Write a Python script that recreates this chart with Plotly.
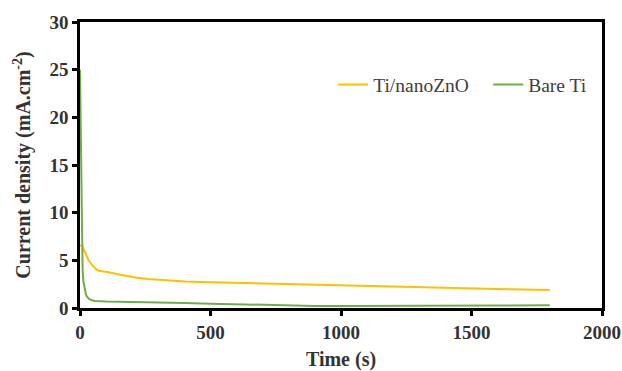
import plotly.graph_objects as go

# Ti/nanoZnO
t_zno = [0, 10, 20, 33, 45, 53, 63, 72, 91, 110, 136, 170, 213, 260, 302, 350, 404, 500,
         600, 700, 800, 900, 1000, 1100, 1200, 1300, 1400, 1500, 1600, 1700, 1800]
j_zno = [6.6, 6.4, 5.8, 5.0, 4.55, 4.3, 4.05, 3.9, 3.85, 3.75, 3.6, 3.4, 3.2, 3.05, 2.95, 2.85, 2.78, 2.7,
         2.63, 2.58, 2.52, 2.46, 2.38, 2.3, 2.22, 2.15, 2.08, 2.03, 1.98, 1.94, 1.9]

# Bare Ti
t_ti = [0, 2, 4, 6, 8, 10, 13, 17, 22, 26, 35, 45, 58, 100, 200, 300, 400, 500, 600, 700,
        800, 900, 1000, 1200, 1400, 1600, 1800]
j_ti = [25, 20, 14, 9, 6, 4, 2.8, 2.0, 1.5, 1.2, 0.95, 0.82, 0.73, 0.68, 0.65, 0.6, 0.52, 0.45,
        0.38, 0.3, 0.25, 0.22, 0.2, 0.2, 0.22, 0.25, 0.28]

x_ticks = [0, 500, 1000, 1500, 2000]
y_ticks = [0, 5, 10, 15, 20, 25, 30]

serif = "Liberation Serif, Times New Roman, serif"

fig = go.Figure()
fig.add_trace(go.Scatter(x=t_zno, y=j_zno, mode="lines", name="Ti/nanoZnO",
                         line=dict(color="#FFC000", width=2), legend="legend"))
fig.add_trace(go.Scatter(x=t_ti, y=j_ti, mode="lines", name="Bare Ti",
                         line=dict(color="#70AD47", width=2), legend="legend2"))

axis_common = dict(showline=True, linecolor="black", linewidth=2.5, mirror=True,
                   ticks="outside", ticklen=5, tickwidth=2.5, tickcolor="black",
                   showgrid=False, zeroline=False, automargin=False,
                   tickfont=dict(family=serif, size=19, color="#333333", weight="bold"))

legend_common = dict(orientation="h", y=0.78, xanchor="left", yanchor="middle",
                     font=dict(family=serif, size=19.5, color="#404040"),
                     bgcolor="rgba(0,0,0,0)", itemwidth=30)

fig.update_layout(
    width=622, height=371,
    margin=dict(l=80, r=20, t=22, b=63, autoexpand=False),
    paper_bgcolor="white", plot_bgcolor="white",
    showlegend=True,
    legend=dict(x=0.485, **legend_common),
    legend2=dict(x=0.782, **legend_common),
    xaxis=dict(range=[0, 2000], tickvals=x_ticks,
               title=dict(text="Time (s)", standoff=14,
                          font=dict(family=serif, size=20, color="#333333", weight="bold")),
               **axis_common),
    yaxis=dict(range=[0, 30], tickvals=y_ticks,
               title=dict(text="Current density (mA.cm<sup>-2</sup>)", standoff=14,
                          font=dict(family=serif, size=20, color="#333333", weight="bold")),
               **axis_common),
)

fig.write_html("out.html")
